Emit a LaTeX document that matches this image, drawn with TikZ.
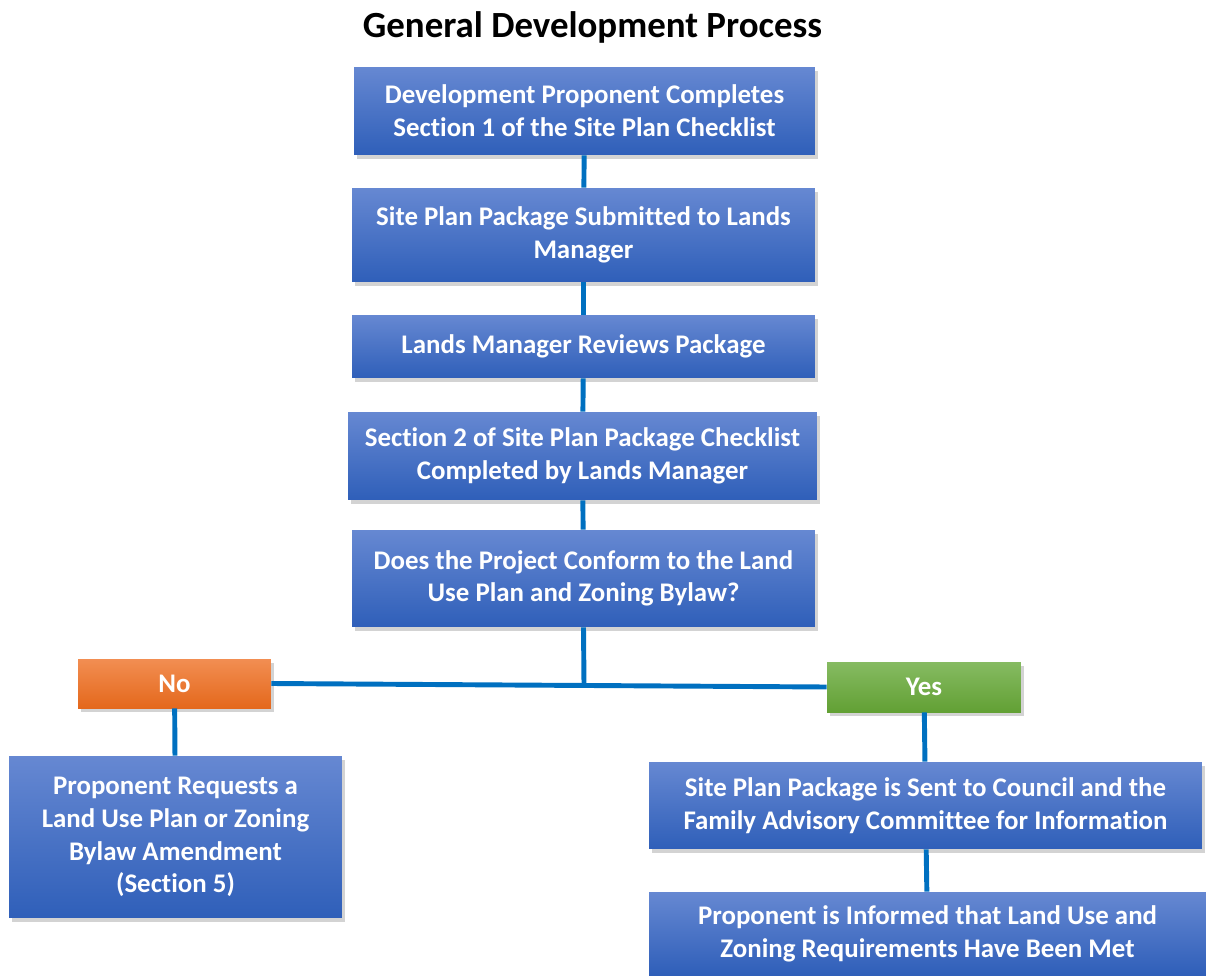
\documentclass[tikz,border=0pt]{standalone}
\usepackage{fontspec}
\setmainfont[Ligatures=NoCommon]{Carlito}
\usepackage{tikz}
\usetikzlibrary{shadows}
\usetikzlibrary{positioning}
\definecolor{bleuHaut}{RGB}{102,136,210}
\definecolor{bleuBas}{RGB}{47,95,185}
\definecolor{orHaut}{RGB}{242,142,82}
\definecolor{orBas}{RGB}{228,104,28}
\definecolor{vertHaut}{RGB}{134,187,98}
\definecolor{vertBas}{RGB}{98,160,52}
\definecolor{trait}{RGB}{0,112,192}
\tikzstyle{boite} = [rectangle, inner sep=0pt, align=center, text=white, font=\bfseries\fontsize{15.3}{18.6}\selectfont, top color=bleuHaut, bottom color=bleuBas, drop shadow={opacity=0.35, shadow xshift=0.06cm, shadow yshift=-0.08cm}]
\tikzstyle{choixnon} = [boite, top color=orHaut, bottom color=orBas]
\tikzstyle{choixoui} = [boite, top color=vertHaut, bottom color=vertBas]
\tikzstyle{lien} = [-, draw=trait, line width=2.8pt]

\begin{document}
\begin{tikzpicture}[x=0.02cm, y=-0.02cm]

	\useasboundingbox (0,0) rectangle (1206,976);

	\node (Titre) at (592.5,27) {\bfseries\fontsize{21}{25}\selectfont General Development Process};

	%% Chaine principale
	\node [boite, minimum width=9.22cm, minimum height=1.76cm] (b1) at (584.5,111) {Development Proponent Completes \\ Section 1 of the Site Plan Checklist};
	\node [boite, minimum width=9.26cm, minimum height=1.88cm] (b2) at (583.5,235) {Site Plan Package Submitted to Lands \\ Manager};
	\node [boite, minimum width=9.26cm, minimum height=1.26cm] (b3) at (583.5,346.5) {Lands Manager Reviews Package};
	\node [boite, minimum width=9.38cm, minimum height=1.76cm] (b4) at (582.5,456) {Section 2 of Site Plan Package Checklist \\ Completed by Lands Manager};
	\node [boite, minimum width=9.26cm, minimum height=1.94cm] (b5) at (583.5,578.5) {Does the Project Conform to the Land \\ Use Plan and Zoning Bylaw?};

	%% Choix
	\node [choixnon, minimum width=3.86cm, minimum height=0.98cm] (Non) at (174.5,683.5) {No};
	\node [choixoui, minimum width=3.88cm, minimum height=1.0cm] (Oui) at (924,687) {Yes};
	\coordinate (jonction) at (584,685.5);

	%% Branche gauche
	\node [boite, minimum width=6.66cm, minimum height=3.24cm] (g1) at (175.5,837) {Proponent Requests a \\ Land Use Plan or Zoning \\ Bylaw Amendment \\ (Section 5)};

	%% Branche droite
	\node [boite, minimum width=11.06cm, minimum height=1.74cm] (d1) at (925.5,805.5) {Site Plan Package is Sent to Council and the \\ Family Advisory Committee for Information};
	\node [boite, minimum width=11.14cm, minimum height=1.66cm] (d2) at (927.5,933.5) {Proponent is Informed that Land Use and \\ Zoning Requirements Have Been Met};

	%% Liens
	\draw [lien] (b1) -- (b2);
	\draw [lien] (b2) -- (b3);
	\draw [lien] (b3) -- (b4);
	\draw [lien] (b4) -- (b5);
	\draw [lien] (b5.south) -- (jonction);
	\draw [lien] (Non.east) -- (Oui.west);
	\draw [lien] (Non) -- (g1);
	\draw [lien] (Oui) -- (d1);
	\draw [lien] (d1) -- (d2);

\end{tikzpicture}
\end{document}
